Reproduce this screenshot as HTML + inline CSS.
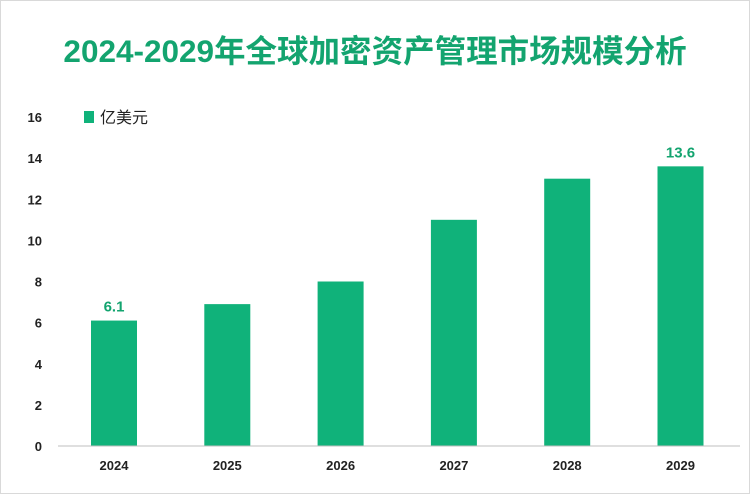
<!DOCTYPE html>
<html><head><meta charset="utf-8"><style>
body{margin:0;background:#fff}
svg{display:block}
text{font-family:"Liberation Sans","Noto Sans CJK SC",sans-serif}
</style></head><body>
<svg width="750" height="494">
<rect x="0.5" y="0.5" width="749" height="493" fill="#fff" stroke="#d9d9d9"/>
<text x="375" y="62" text-anchor="middle" font-size="31.5" font-weight="bold" fill="#13a46f">2024-2029年全球加密资产管理市场规模分析</text>
<rect x="84" y="111" width="10" height="12" fill="#10b27a"/>
<text x="100" y="123" font-size="16" fill="#222">亿美元</text>
<g id="yaxis"></g>
<g id="bars"></g>
<line x1="58" y1="446" x2="740" y2="446" stroke="#bfbfbf"/>
</svg>
<script>
const categories=["2024","2025","2026","2027","2028","2029"];
const values=[6.1,6.9,8.0,11.0,13.0,13.6];
const labels=["6.1","","","","","13.6"];
const yTicks=[0,2,4,6,8,10,12,16,14];
const ns="http://www.w3.org/2000/svg";
const y=v=>446-v*20.5625;
const x=i=>114+i*113.3;
function mk(t,a,p){const e=document.createElementNS(ns,t);for(const k in a)e.setAttribute(k,a[k]);p.appendChild(e);return e;}
const ya=document.getElementById('yaxis'),bs=document.getElementById('bars');
yTicks.forEach(v=>{const t=mk('text',{x:42,y:y(v)+5,'text-anchor':'end','font-size':13,'font-weight':'bold',fill:'#222'},ya);t.textContent=v;

});
categories.forEach((c,i)=>{
const r=mk('rect',{x:x(i)-23,y:y(values[i]),width:46,height:446-y(values[i]),fill:'#10b27a'},bs);


const t=mk('text',{x:x(i),y:470,'text-anchor':'middle','font-size':13,'font-weight':'bold',fill:'#222'},bs);t.textContent=c;


if(labels[i]){const l=mk('text',{x:x(i),y:y(values[i])-9,'text-anchor':'middle','font-size':15,'font-weight':'bold',fill:'#13a46f'},bs);l.textContent=labels[i];

}
});
</script>
</body></html>
